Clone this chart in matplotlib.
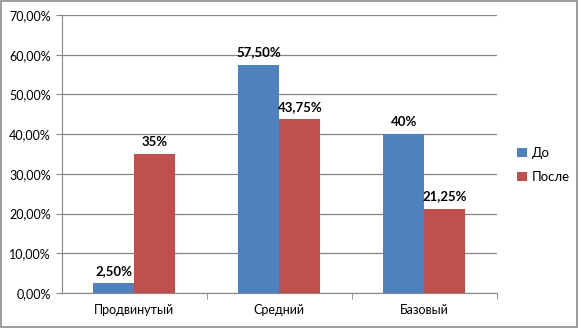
import numpy as np
import matplotlib.pyplot as plt
from matplotlib.patches import Rectangle
from matplotlib.ticker import FuncFormatter

categories = ["Продвинутый", "Средний", "Базовый"]
series_names = ["До", "После"]
before = [2.5, 57.5, 40.0]
after = [35.0, 43.75, 21.25]
before_labels = ["2,50%", "57,50%", "40%"]
after_labels = ["35%", "43,75%", "21,25%"]
colors = ["#4F81BD", "#C0504D"]

plt.rcParams["font.family"] = ["Lato", "DejaVu Sans"]
plt.rcParams["font.size"] = 9

fig = plt.figure(figsize=(5.79, 3.28), dpi=100)
ax = fig.add_axes([0.107, 0.107, 0.751, 0.847])

x = np.arange(len(categories))
w = 0.283
for vals, labels, col, off, name in [(before, before_labels, colors[0], -w / 2, series_names[0]),
                                     (after, after_labels, colors[1], w / 2, series_names[1])]:
    bars = ax.bar(x + off, vals, w, color=col, label=name, zorder=3)
    for b, lab in zip(bars, labels):
        ax.text(b.get_x() + b.get_width() / 2, b.get_height() + 1.6, lab,
                ha="center", va="bottom", fontweight="bold", fontsize=9.5, zorder=4)

ax.set_xlim(-0.5, 2.5)
ax.set_ylim(0, 70)
ax.set_yticks(np.arange(0, 71, 10))
ax.yaxis.set_major_formatter(FuncFormatter(lambda v, p: f"{v:.2f}".replace(".", ",") + "%"))
ax.set_xticks(x)
ax.set_xticklabels(categories)
ax.set_xticks([0.5, 1.5, 2.5], minor=True)
ax.tick_params(axis="x", which="major", length=0, pad=8)
ax.tick_params(axis="x", which="minor", length=4, color="#868686", direction="out")
ax.tick_params(axis="y", length=4, color="#868686", direction="out", pad=4)
ax.grid(axis="y", color="#868686", linewidth=0.9, zorder=0)
for s in ["top", "right"]:
    ax.spines[s].set_visible(False)
for s in ["left", "bottom"]:
    ax.spines[s].set_color("#868686")

ax.legend(loc="center left", bbox_to_anchor=(1.02, 0.46), frameon=False,
          handlelength=0.7, handleheight=0.7, handletextpad=0.4, labelspacing=0.95, fontsize=9.5)

fig.patches.append(Rectangle((0.002, 0.004), 0.994, 0.992, transform=fig.transFigure,
                             fill=False, edgecolor="#8c8c8c", linewidth=1.2))

fig.savefig("out.png", dpi=100)
